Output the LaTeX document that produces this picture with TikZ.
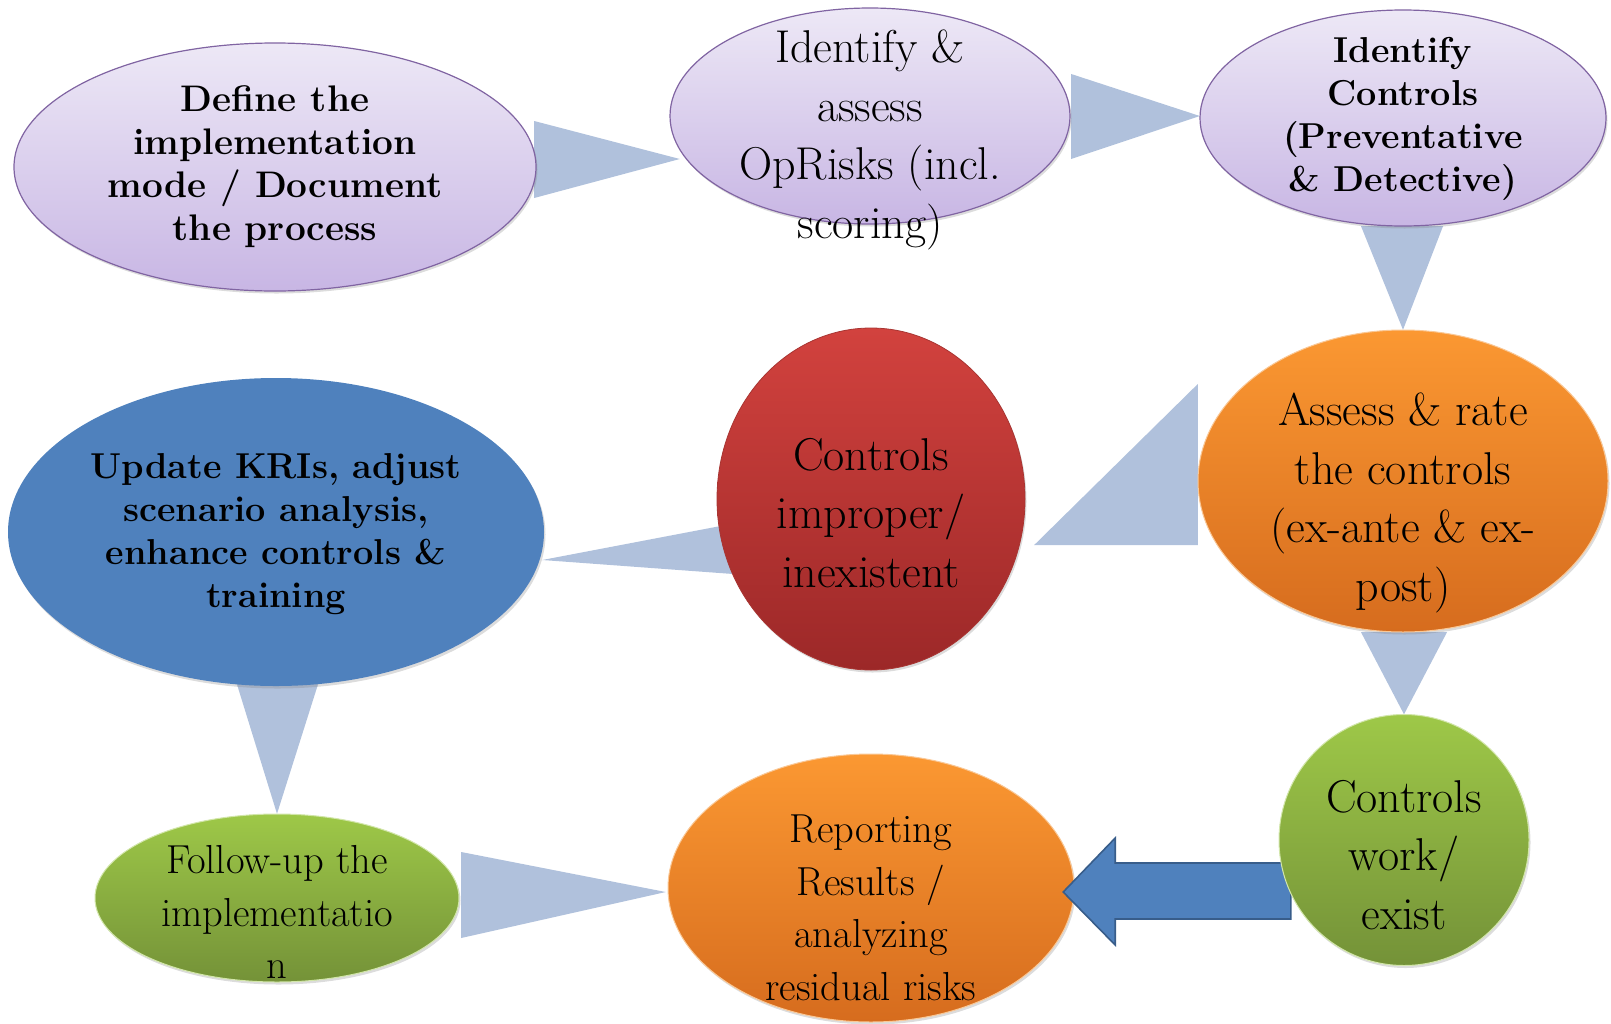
\documentclass[tikz,border=0pt]{standalone}
\usepackage{fontspec}
\usetikzlibrary{shapes.geometric,calc,shadows}

\definecolor{lavTop}{RGB}{237,232,246}
\definecolor{lavBot}{RGB}{200,182,228}
\definecolor{lavRim}{RGB}{128,100,162}
\definecolor{orTop}{RGB}{251,152,50}
\definecolor{orBot}{RGB}{214,108,30}
\definecolor{orRim}{RGB}{250,200,150}
\definecolor{redTop}{RGB}{210,66,62}
\definecolor{redBot}{RGB}{156,40,40}
\definecolor{grTop}{RGB}{158,200,72}
\definecolor{grBot}{RGB}{116,146,56}
\definecolor{grRim}{RGB}{210,230,170}
\definecolor{kriBlue}{RGB}{79,129,189}
\definecolor{kriRim}{RGB}{56,93,138}
\definecolor{wedge}{RGB}{176,193,220}

\tikzset{
  x=1pt, y=-1pt,
  blob/.style={ellipse, inner sep=0pt, outer sep=0pt,
    drop shadow={opacity=0.28, shadow xshift=1.5pt, shadow yshift=-2.5pt}},
  lavender/.style={blob, top color=lavTop, bottom color=lavBot, draw=lavRim, line width=1.2pt},
  amber/.style={blob, top color=orTop, bottom color=orBot, draw=orRim, line width=1pt},
  crimson/.style={blob, top color=redTop, bottom color=redBot, draw=redTop!80!black, line width=0.8pt},
  leaf/.style={blob, top color=grTop, bottom color=grBot, draw=grRim, line width=1pt},
  sky/.style={blob, fill=kriBlue},
  wedgefill/.style={fill=wedge},
  boldtxt/.style={align=center, font=\fontsize{36}{43}\selectfont\bfseries},
  regtxt/.style={align=center, font=\fontsize{46}{58.5}\selectfont},
  smalltxt/.style={align=center, font=\fontsize{40.5}{52.5}\selectfont},
}

\begin{document}
\begin{tikzpicture}
\useasboundingbox (0,0) rectangle (1611,1023);

% ---- anchor coordinates of the process shapes ----
\path (275,167)  coordinate (cdef)
      (870,116)  coordinate (cida)
      (1403,118) coordinate (cidc)
      (1403,481) coordinate (cass)
      (871,499)  coordinate (cimp)
      (276,532)  coordinate (cupd)
      (277,898)  coordinate (cfol)
      (871,888)  coordinate (crep)
      (1404,840) coordinate (cwork);

% ---- invisible outlines used to place the connectors ----
\path node[ellipse, inner sep=0pt, minimum width=522, minimum height=248] (def) at (cdef) {}
      node[ellipse, inner sep=0pt, minimum width=400, minimum height=216] (ida) at (cida) {}
      node[ellipse, inner sep=0pt, minimum width=406, minimum height=216] (idc) at (cidc) {}
      node[ellipse, inner sep=0pt, minimum width=410, minimum height=302] (ass) at (cass) {}
      node[ellipse, inner sep=0pt, minimum width=308, minimum height=342] (imp) at (cimp) {}
      node[ellipse, inner sep=0pt, minimum width=536, minimum height=308] (upd) at (cupd) {}
      node[ellipse, inner sep=0pt, minimum width=364, minimum height=168] (fol) at (cfol) {}
      node[ellipse, inner sep=0pt, minimum width=406, minimum height=268] (rep) at (crep) {}
      node[ellipse, inner sep=0pt, minimum width=250, minimum height=251] (work) at (cwork) {};

% ---- wedge-shaped connectors (behind the shapes) ----
\fill[wedgefill] ($(def.east)+(-2,-46)$) -- ($(def.east)+(-2,31)$) -- ($(ida.west)+(10,43)$) -- cycle;
\fill[wedgefill] ($(ida.east)+(1,-42)$) -- ($(ida.east)+(1,43)$) -- ($(idc.west)+(0,-2)$) -- cycle;
\fill[wedgefill] ($(idc.south)+(-42,0)$) -- ($(idc.south)+(40,0)$) -- (ass.north) -- cycle;
\fill[wedgefill] ($(ass.west)+(0,-97)$) -- ($(ass.west)+(0,64)$) -- ($(imp.east)+(9,46)$) -- cycle;
\fill[wedgefill] ($(imp.west)+(30,22)$) -- ($(imp.west)+(30,76)$) -- ($(upd.east)+(-2,28)$) -- cycle;
\fill[wedgefill] ($(upd.south)+(-40,-5)$) -- ($(upd.south)+(43,-5)$) -- (fol.north) -- cycle;
\fill[wedgefill] ($(fol.east)+(2,-46)$) -- ($(fol.east)+(2,40)$) -- ($(rep.west)+(-2,4)$) -- cycle;
\fill[wedgefill] ($(ass.south)+(-42,0)$) -- ($(ass.south)+(44,0)$) -- (work.north) -- cycle;

% ---- process shapes ----
\node[lavender, minimum width=522, minimum height=248] at (cdef) {};
\node[lavender, minimum width=400, minimum height=216] at (cida) {};
\node[lavender, minimum width=406, minimum height=216] at (cidc) {};
\node[amber,    minimum width=410, minimum height=302] at (cass) {};
\node[crimson,  minimum width=308, minimum height=342] at (cimp) {};
\node[sky,      minimum width=536, minimum height=308] at (cupd) {};
\node[leaf,     minimum width=364, minimum height=168] at (cfol) {};
\node[amber,    minimum width=406, minimum height=268] at (crep) {};

% ---- block arrow from "work/exist" to reporting ----
\coordinate (tipR) at ($(rep.east)+(-11,4)$);
\coordinate (tailR) at ($(work.west)+(12,51)$);
\draw[fill=kriBlue, draw=kriRim, line width=1.6pt, line join=miter]
  (tipR) -- ($(tipR)+(52,-54)$) -- ($(tipR)+(52,-29)$) -- ($(tailR)+(0,-28)$)
  -- ($(tailR)+(0,28)$) -- ($(tipR)+(52,27)$) -- ($(tipR)+(52,53)$) -- cycle;

\node[leaf, minimum width=250, minimum height=251] at (cwork) {};

% ---- texts ----
\node[boldtxt, font=\fontsize{37}{43}\selectfont\bfseries] (tdef) at (275,167) {Define the\\implementation\\mode / Document\\the process};
\node[regtxt]  (tida) at (870,140) {Identify \&\\assess\\OpRisks (incl.\\scoring)};
\node[boldtxt] (tidc) at (1403,119) {Identify\\Controls\\(Preventative\\\& Detective)};
\node[regtxt]  (tass) at (1403,503) {Assess \& rate\\the controls\\(ex-ante \& ex-\\post)};
\node[regtxt]  (timp) at (871,513) {Controls\\improper/\\inexistent};
\node[boldtxt] (tupd) at (276,534) {Update KRIs, adjust\\scenario analysis,\\enhance controls \&\\training};
\node[smalltxt](tfol) at (277,912) {Follow-up the\\implementatio\\n};
\node[smalltxt](trep) at (871,908) {Reporting\\Results /\\analyzing\\residual risks};
\node[regtxt]  (twork) at (1404,855) {Controls\\work/\\exist};
\end{tikzpicture}
\end{document}
